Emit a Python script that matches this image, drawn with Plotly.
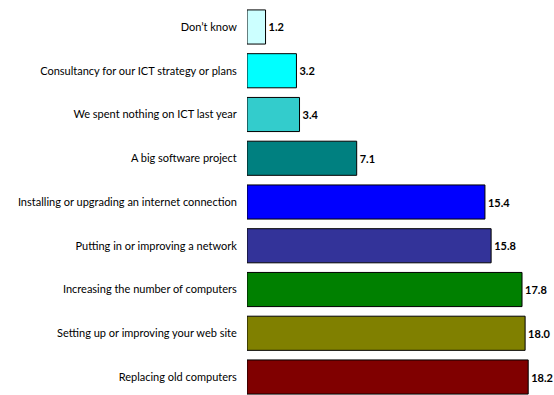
import plotly.graph_objects as go

# Categories listed bottom to top
categories = [
    "Replacing old computers",
    "Setting up or improving your web site",
    "Increasing the number of computers",
    "Putting in or improving a network",
    "Installing or upgrading an internet connection",
    "A big software project",
    "We spent nothing on ICT last year",
    "Consultancy for our ICT strategy or plans",
    "Don\u2019t know",
]
values = [18.2, 18.0, 17.8, 15.8, 15.4, 7.1, 3.4, 3.2, 1.2]
colors = ["#800000", "#808000", "#008000", "#333399", "#0000FF",
          "#008080", "#33CCCC", "#00FFFF", "#CCFFFF"]

fig = go.Figure(
    go.Bar(
        x=values,
        y=categories,
        orientation="h",
        marker=dict(color=colors, line=dict(color="#000000", width=1)),
        text=[f"{v:.1f}" for v in values],
        textposition="outside",
        textfont=dict(family="Lato", size=11, color="#000000", weight="bold"),
        cliponaxis=False,
    )
)

fig.update_layout(
    width=554,
    height=395,
    margin=dict(l=247, r=0, t=0, b=0),
    paper_bgcolor="white",
    plot_bgcolor="white",
    bargap=0.22,
    showlegend=False,
    font=dict(family="Lato", size=11, color="#000000"),
    xaxis=dict(range=[0, 19.87], visible=False, showgrid=False, zeroline=False),
    yaxis=dict(
        range=[-0.411, 8.617],
        showgrid=False,
        zeroline=False,
        showline=False,
        ticks="outside",
        ticklen=7,
        tickcolor="rgba(0,0,0,0)",
        tickfont=dict(family="Lato", size=11, color="#000000"),
    ),
)

fig.write_html("out.html")
